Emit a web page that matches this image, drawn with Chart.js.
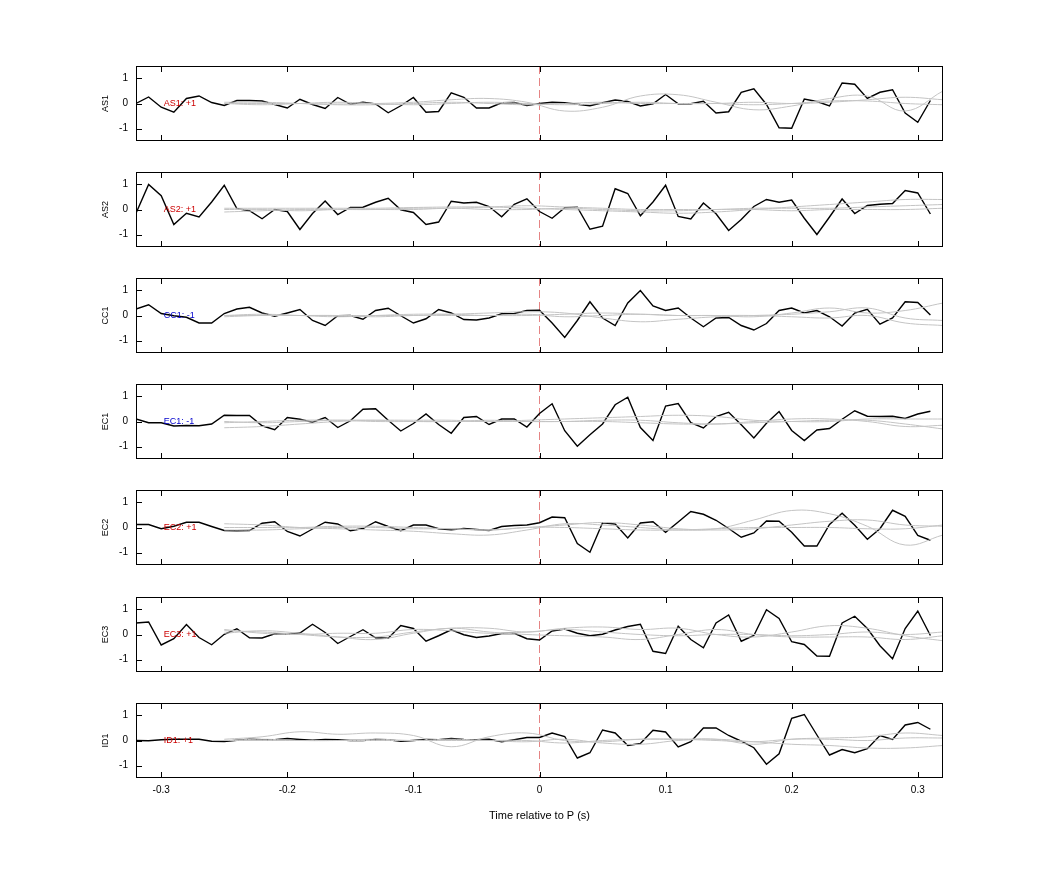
<!DOCTYPE html>
<html><head><meta charset="utf-8">
<script src="https://cdn.jsdelivr.net/npm/chart.js@4.4.1/dist/chart.umd.min.js"></script>
<style>body{margin:0;background:#fff;width:1042px;height:875px;position:relative;overflow:hidden;font-family:"Liberation Sans",Arial,sans-serif}canvas{position:absolute}</style>
</head><body>
<script>
const tBlack=[-0.32,-0.31,-0.30,-0.29,-0.28,-0.27,-0.26,-0.25,-0.24,-0.23,-0.22,-0.21,-0.20,-0.19,-0.18,-0.17,-0.16,-0.15,-0.14,-0.13,-0.12,-0.11,-0.10,-0.09,-0.08,-0.07,-0.06,-0.05,-0.04,-0.03,-0.02,-0.01,0,0.01,0.02,0.03,0.04,0.05,0.06,0.07,0.08,0.09,0.10,0.11,0.12,0.13,0.14,0.15,0.16,0.17,0.18,0.19,0.20,0.21,0.22,0.23,0.24,0.25,0.26,0.27,0.28,0.29,0.30,0.31];
const tGray=[-0.25,-0.22,-0.19,-0.16,-0.13,-0.10,-0.07,-0.04,-0.01,0.02,0.05,0.08,0.11,0.14,0.17,0.20,0.23,0.26,0.29,0.32];
const xTicks=[-0.3,-0.2,-0.1,0,0.1,0.2,0.3];
const yTicks=[1,0,-1];
const channels=["AS1","AS2","CC1","EC1","EC2","EC3","ID1"];
const signs=["+1","+1","-1","-1","+1","+1","+1"];

const AS1=[0,0.26,-0.15,-0.35,0.2,0.3,0.04,-0.08,0.12,0.12,0.1,-0.04,-0.18,0.17,-0.04,-0.2,0.24,-0.03,0.05,-0.02,-0.37,-0.09,0.24,-0.35,-0.32,0.43,0.25,-0.18,-0.18,0.03,0.04,-0.08,0,0.05,0.03,-0.03,-0.09,0.03,0.14,0.08,-0.1,-0.01,0.36,-0.01,-0.01,0.09,-0.38,-0.33,0.45,0.59,-0.04,-0.97,-0.99,0.18,0.08,-0.1,0.82,0.77,0.2,0.45,0.55,-0.38,-0.75,0.12];
const AS2=[-0.15,1.0,0.55,-0.6,-0.15,-0.3,0.3,0.97,0.04,-0.05,-0.37,0,-0.08,-0.8,-0.16,0.34,-0.2,0.08,0.09,0.29,0.45,-0.01,-0.12,-0.6,-0.5,0.33,0.26,0.29,0.12,-0.29,0.21,0.43,-0.08,-0.35,0.07,0.09,-0.79,-0.67,0.83,0.64,-0.25,0.3,0.97,-0.28,-0.38,0.26,-0.17,-0.84,-0.4,0.12,0.4,0.29,0.38,-0.35,-1.0,-0.3,0.42,-0.16,0.16,0.21,0.24,0.76,0.66,-0.18];
const CC1=[0.26,0.43,0.08,-0.01,-0.07,-0.3,-0.3,0.08,0.26,0.33,0.1,-0.03,0.1,0.24,-0.2,-0.4,-0.01,0,-0.15,0.2,0.29,-0.01,-0.3,-0.13,0.24,0.1,-0.16,-0.18,-0.1,0.07,0.08,0.2,0.21,-0.3,-0.88,-0.2,0.55,-0.1,-0.4,0.5,1.0,0.38,0.2,0.3,-0.1,-0.45,-0.1,-0.08,-0.4,-0.58,-0.32,0.2,0.3,0.1,0.2,-0.05,-0.42,0.1,0.25,-0.35,-0.1,0.55,0.52,0.02];
const EC1=[0.1,-0.05,-0.05,-0.18,-0.16,-0.17,-0.1,0.25,0.24,0.24,-0.17,-0.33,0.16,0.09,-0.03,0.16,-0.24,0.03,0.49,0.51,0.05,-0.38,-0.08,0.3,-0.12,-0.47,0.16,0.2,-0.12,0.1,0.1,-0.22,0.32,0.71,-0.37,-0.99,-0.53,-0.1,0.67,0.97,-0.24,-0.76,0.62,0.72,-0.05,-0.26,0.2,0.37,-0.13,-0.66,-0.07,0.4,-0.36,-0.76,-0.34,-0.28,0.09,0.43,0.21,0.2,0.21,0.12,0.3,0.41];
const EC2=[0.12,0.12,-0.05,0.05,0.21,0.21,0.04,-0.12,-0.13,-0.12,0.17,0.23,-0.16,-0.34,-0.06,0.21,0.14,-0.13,-0.04,0.23,0.04,-0.13,0.1,0.1,-0.05,-0.09,-0.04,-0.08,-0.12,0.04,0.08,0.1,0.19,0.42,0.39,-0.64,-0.99,0.19,0.14,-0.42,0.18,0.23,-0.19,0.22,0.64,0.53,0.29,-0.04,-0.39,-0.22,0.26,0.25,-0.19,-0.74,-0.74,0.12,0.57,0.09,-0.47,-0.05,0.69,0.45,-0.32,-0.51];
const EC3=[0.46,0.5,-0.42,-0.17,0.4,-0.12,-0.41,0.01,0.23,-0.13,-0.14,0.03,0.01,0.06,0.41,0.08,-0.36,-0.08,0.19,-0.13,-0.15,0.36,0.24,-0.27,-0.05,0.19,-0.01,-0.12,-0.06,0.04,0.05,-0.17,-0.22,0.14,0.22,0.05,-0.05,0.01,0.18,0.32,0.41,-0.67,-0.76,0.33,-0.2,-0.53,0.46,0.78,-0.27,-0.04,0.99,0.64,-0.29,-0.4,-0.86,-0.87,0.46,0.73,0.24,-0.45,-0.97,0.24,0.94,-0.04];
const ID1=[0,-0.01,0.03,0.05,0.05,0.05,-0.03,-0.04,0.01,0.05,0.03,0.03,0.08,0.04,0.01,0.04,0.03,0,0,0.04,0.03,-0.03,0,0.04,0.03,0.08,0.04,0.03,0.05,-0.05,0.03,0.12,0.12,0.3,0.16,-0.7,-0.49,0.42,0.3,-0.2,-0.12,0.41,0.34,-0.26,-0.05,0.5,0.5,0.2,-0.03,-0.29,-0.95,-0.53,0.89,1.04,0.22,-0.58,-0.36,-0.49,-0.33,0.2,0.04,0.62,0.72,0.45];

const AS1g1=[0,0,0,-0.02,0,0.05,0.15,0.2,0.05,-0.3,-0.15,0.3,0.35,0.05,-0.25,-0.1,0.2,0.3,-0.3,0.5];
const AS1g2=[0,-0.05,0,0.05,0,-0.05,0,0.05,0,-0.05,0,0.05,0,0,0.05,0,0.05,0.15,0.25,0.15];
const AS1g3=[0.05,0.05,0,-0.05,-0.05,0,0.05,0,-0.05,0,0.05,0,0,0,-0.05,0,0.1,0.1,0,-0.05];
const AS2g1=[0.05,0.05,0.05,0.05,0.05,0.08,0.1,0.1,0.05,0,-0.05,-0.1,-0.15,-0.1,0,0.1,0.2,0.3,0.4,0.4];
const AS2g2=[-0.1,-0.05,0,0,0,0.05,0.05,0.1,0.15,0.1,0.05,0,0,0,0.05,0.05,0.05,0.1,0.15,0.2];
const AS2g3=[0,0,-0.05,0,0,0,0.05,0,0,0.05,0,-0.05,-0.05,0,0,-0.05,0,0,0,0.05];
const CC1g1=[0,0,0,0,0,0,0.05,0.1,0.15,0.1,-0.1,-0.25,-0.15,-0.05,0,0.05,0.15,0.3,-0.1,-0.2];
const CC1g2=[0,0.05,0,-0.05,0,0.05,0.05,0,0.05,-0.05,0,0.05,0,0,-0.05,0.1,0.3,0.1,0.2,0.5];
const CC1g3=[-0.05,0,0,0,-0.05,0,0,0,0,0.05,0.1,0.05,0,0,0,-0.05,-0.1,0,-0.3,-0.4];
const EC1g1=[-0.25,-0.2,-0.1,0,0.05,0.05,0.05,0,0.05,0.1,0.15,0.2,0.25,0.2,0.05,0,0,0.1,0.1,0.1];
const EC1g2=[-0.05,0,0.05,0.05,0,0,0,0.05,0,0,0,-0.05,-0.1,-0.1,-0.05,0,0.05,0.05,-0.1,-0.3];
const EC1g3=[0,-0.05,0,0.05,0.05,0,0,0,0,0,0.05,0.05,-0.05,-0.1,0,0.1,0.1,0,-0.2,-0.15];
const EC2g1=[0.15,0.1,0,-0.05,-0.1,-0.15,-0.25,-0.3,-0.1,0.15,0.1,0,-0.1,-0.05,0.3,0.68,0.55,0.05,-0.7,-0.3];
const EC2g2=[0,0,0,0.05,0.05,0,-0.05,-0.1,0,0.1,0.2,0.1,-0.05,-0.1,-0.05,0.1,0.25,0.3,0.1,0.05];
const EC2g3=[-0.1,-0.1,-0.05,0,0,-0.05,-0.05,-0.1,0,0,-0.05,-0.1,-0.1,-0.05,0,0,0,-0.05,-0.05,0.1];
const EC3g1=[0.15,0.1,0,-0.1,-0.1,0.1,0.25,0.25,0.1,0.25,0.3,0.2,0.25,0,-0.1,0.1,0.35,0.25,-0.05,-0.25];
const EC3g2=[0.05,0.15,0.05,-0.1,-0.2,0.05,0.25,0.1,0,-0.05,-0.1,-0.2,0,0.2,0,-0.1,-0.1,-0.1,-0.2,-0.05];
const EC3g3=[0.2,0.05,0,0.05,0.05,0.2,0.15,0.05,0.1,0.2,0.1,0,-0.05,0,0,-0.05,0,0.1,0,0.1];
const ID1g1=[0.05,0.15,0.35,0.25,0.3,0.2,-0.25,0.15,0.3,0,-0.05,0.05,0.05,0,-0.05,0.05,0.05,0,0.1,0.1];
const ID1g2=[0,0,0,0,0.05,0,0.05,0,-0.05,0.05,-0.1,-0.15,0,0.05,-0.05,-0.15,-0.2,-0.3,-0.3,-0.2];
const ID1g3=[0,0.05,0,0,0,0,0,0,0,-0.1,0,0.05,0.05,0.05,-0.15,0.05,0.1,0.15,0.3,0.2];

const blackSeries=[AS1,AS2,CC1,EC1,EC2,EC3,ID1];
const graySeries=[[AS1g1,AS1g2,AS1g3],[AS2g1,AS2g2,AS2g3],[CC1g1,CC1g2,CC1g3],[EC1g1,EC1g2,EC1g3],[EC2g1,EC2g2,EC2g3],[EC3g1,EC3g2,EC3g3],[ID1g1,ID1g2,ID1g3]];
const tops=[66,172,278,384,490,597,703];
const PH=75, PADL=36, PADR=10, PADT=10;

channels.forEach((ch,i)=>{
  const last=i===channels.length-1;
  const cv=document.createElement('canvas');
  const W=PADL+807+PADR, H=PH+PADT+(last?50:10);
  cv.style.left='100px'; cv.style.top=(tops[i]-PADT)+'px';
  cv.style.width=W+'px'; cv.style.height=H+'px';
  cv.width=W; cv.height=H;
  document.body.appendChild(cv);
  const ds=graySeries[i].map(g=>({data:tGray.map((t,k)=>({x:t,y:g[k]})),borderColor:'#c4c4c4',borderWidth:1,pointRadius:0,tension:0.4}));
  ds.push({data:tBlack.map((t,k)=>({x:t,y:blackSeries[i][k]})),borderColor:'#000',borderWidth:1.4,pointRadius:0,tension:0});
  const deco={id:'deco',
    beforeDatasetsDraw(c){const x=c.scales.x,a=c.chartArea,g=c.ctx;const px=x.getPixelForValue(0);
      g.save();g.strokeStyle='rgba(225,110,110,0.85)';g.lineWidth=1;g.setLineDash([8,4]);
      g.beginPath();g.moveTo(px,a.top);g.lineTo(px,a.bottom);g.stroke();g.restore();},
    afterDraw(c){const x=c.scales.x,y=c.scales.y,a=c.chartArea,g=c.ctx;g.save();
      g.strokeStyle='#000';g.lineWidth=1;g.strokeRect(Math.round(a.left)+0.5,Math.round(a.top)+0.5,Math.round(a.right-a.left)-1,Math.round(a.bottom-a.top)-1);
      g.beginPath();
      xTicks.forEach(t=>{const p=Math.round(x.getPixelForValue(t))+0.5;g.moveTo(p,a.top);g.lineTo(p,a.top+6);g.moveTo(p,a.bottom);g.lineTo(p,a.bottom-6);});
      yTicks.forEach(t=>{const p=Math.round(y.getPixelForValue(t))+0.5;g.moveTo(a.left,p);g.lineTo(a.left+6,p);});
      g.stroke();
      g.fillStyle='#000';g.font='10px "Liberation Sans", Arial';g.textAlign='right';g.textBaseline='middle';
      yTicks.forEach(t=>g.fillText(String(t),a.left-8,y.getPixelForValue(t)));
      g.save();g.translate(a.left-30,(a.top+a.bottom)/2);g.rotate(-Math.PI/2);g.textAlign='center';g.font='9px "Liberation Sans", Arial';g.fillText(ch,0,0);g.restore();
      g.font='9px "Liberation Sans", Arial';g.textAlign='left';g.fillStyle=signs[i]==='-1'?'#0000cc':'#cc0000';
      g.fillText(ch+': '+signs[i],x.getPixelForValue(-0.298),y.getPixelForValue(0));
      if(last){g.fillStyle='#000';g.font='10px "Liberation Sans", Arial';g.textAlign='center';g.textBaseline='top';
        xTicks.forEach(t=>g.fillText(String(t),x.getPixelForValue(t),a.bottom+7));
        g.font='11px "Liberation Sans", Arial';g.fillText('Time relative to P (s)',(a.left+a.right)/2,a.bottom+32);}
      g.restore();}};
  new Chart(cv,{type:'line',data:{datasets:ds},plugins:[deco],
    options:{responsive:false,animation:false,devicePixelRatio:1,
      layout:{padding:{left:PADL,right:PADR,top:PADT,bottom:H-PADT-PH}},
      plugins:{legend:{display:false},tooltip:{enabled:false}},
      scales:{x:{type:'linear',min:-0.32,max:0.32,display:false},y:{min:-1.5,max:1.5,display:false}}}});
});
</script>
</body></html>
